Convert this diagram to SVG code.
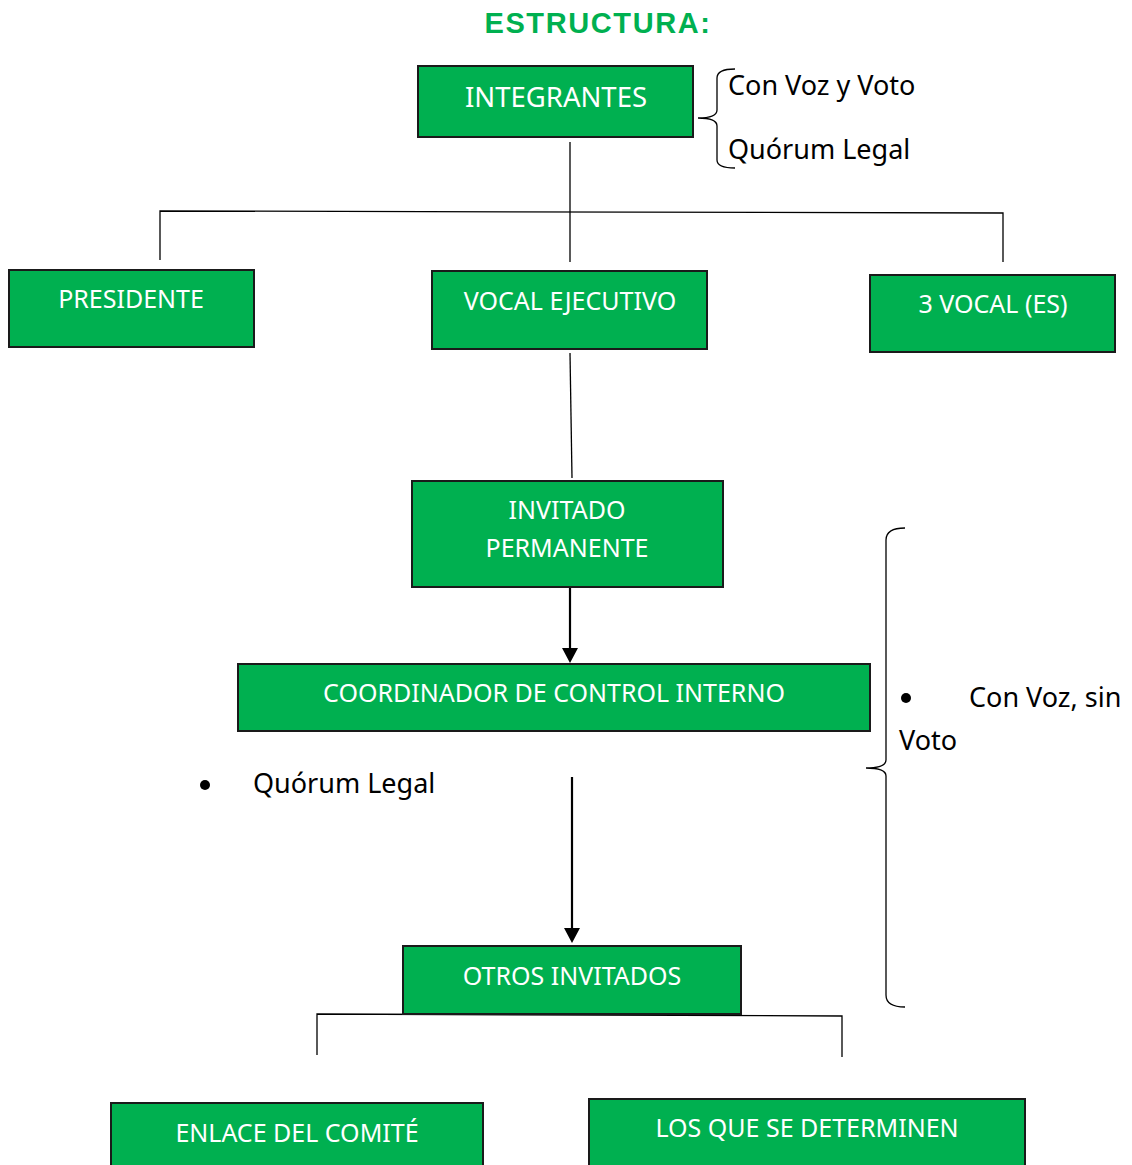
<svg xmlns="http://www.w3.org/2000/svg" width="1132" height="1165" viewBox="0 0 1132 1165">
<style>
.box{fill:#00B050;stroke:#1a1a1a;stroke-width:2}
.lbl{font-family:"Noto Sans","Open Sans",sans-serif;font-size:25px;fill:#ffffff;text-anchor:middle}
.txt{font-family:"Noto Sans","Open Sans",sans-serif;font-size:27px;fill:#000000}
.ln{fill:none;stroke:#000;stroke-width:1.3}
.arr{fill:none;stroke:#000;stroke-width:2.2}
</style>
<rect width="1132" height="1165" fill="#fff"/>
<text x="598" y="33" font-family="Liberation Sans,Arial,sans-serif" font-weight="bold" font-size="29" letter-spacing="1.6" fill="#00B050" text-anchor="middle">ESTRUCTURA:</text>

<g id="connectors">
<line class="ln" x1="570" y1="142" x2="570" y2="262"/>
<polyline class="ln" points="160,260 160,211 1003,213 1003,262"/>
<line class="ln" x1="570" y1="353" x2="572" y2="478"/>
<line class="arr" x1="570" y1="588" x2="570" y2="648"/>
<path d="M562,648 L578,648 L570,663 z" fill="#000"/>
<line class="arr" x1="572" y1="777" x2="572" y2="928"/>
<path d="M564,928 L580,928 L572,943 z" fill="#000"/>
<line class="ln" x1="572" y1="980" x2="572" y2="1014"/>
<polyline class="ln" points="317,1055 317,1014 842,1016 842,1057"/>
</g>

<g id="integrantes"><rect class="box" x="418" y="66" width="275" height="71"/><text class="lbl" x="556" y="107" style="font-size:27.5px">INTEGRANTES</text></g>
<g id="brace-top"><path class="ln" d="M735,69 Q717,69 717,78 L717,110 Q717,118 698,118 Q717,118 717,126 L717,160 Q717,168 735,168"/>
<text class="txt" x="728" y="95">Con Voz y Voto</text>
<text class="txt" x="728" y="159">Quórum Legal</text></g>

<g id="presidente"><rect class="box" x="9" y="270" width="245" height="77"/><text class="lbl" x="131" y="308">PRESIDENTE</text></g>
<g id="vocal-ejecutivo"><rect class="box" x="432" y="271" width="275" height="78"/><text class="lbl" x="570" y="310">VOCAL EJECUTIVO</text></g>
<g id="vocales"><rect class="box" x="870" y="275" width="245" height="77"/><text class="lbl" x="993" y="313">3 VOCAL (ES)</text></g>
<g id="invitado-permanente"><rect class="box" x="412" y="481" width="311" height="106"/><text class="lbl" x="567" y="519">INVITADO</text><text class="lbl" x="567" y="557">PERMANENTE</text></g>
<g id="coordinador"><rect class="box" x="238" y="664" width="632" height="67"/><text class="lbl" x="554" y="702">COORDINADOR DE CONTROL INTERNO</text></g>
<g id="quorum"><circle cx="205" cy="785" r="5" fill="#000"/><text class="txt" x="253" y="793">Quórum Legal</text></g>
<g id="otros-invitados"><rect class="box" x="403" y="946" width="338" height="68"/><text class="lbl" x="572" y="985">OTROS INVITADOS</text></g>
<g id="enlace"><rect class="box" x="111" y="1103" width="372" height="70"/><text class="lbl" x="297" y="1142">ENLACE DEL COMITÉ</text></g>
<g id="los-que"><rect class="box" x="589" y="1099" width="436" height="74"/><text class="lbl" x="807" y="1137">LOS QUE SE DETERMINEN</text></g>

<g id="brace-right"><path class="ln" d="M905,528 Q886,528 886,540 L886,760 Q886,768 866,768 Q886,768 886,776 L886,995 Q886,1007 905,1007"/>
<circle cx="906" cy="698" r="5" fill="#000"/>
<text class="txt" x="969" y="707">Con Voz, sin</text>
<text class="txt" x="899" y="750">Voto</text></g>
</svg>
